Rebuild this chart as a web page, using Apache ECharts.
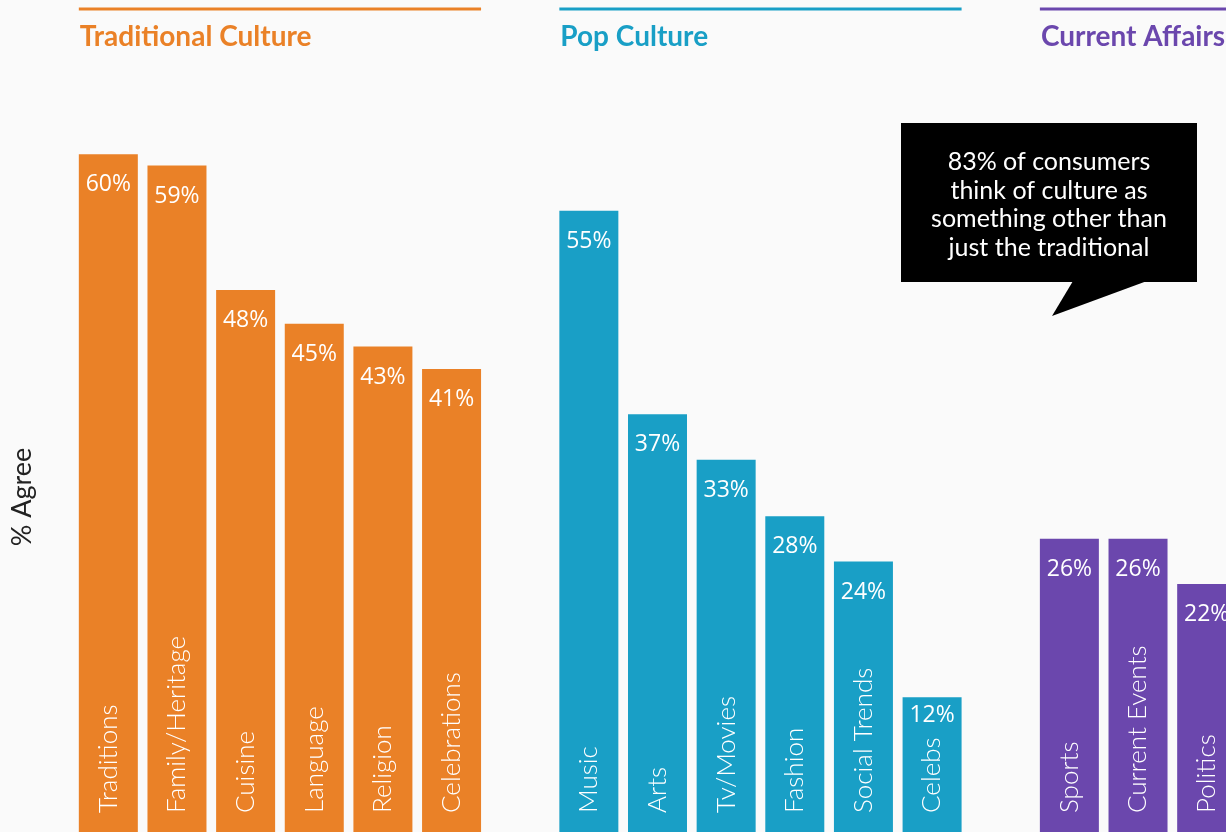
<!DOCTYPE html>
<html>
<head>
<meta charset="utf-8">
<title>Culture</title>
<script src="https://cdn.jsdelivr.net/npm/echarts@6/dist/echarts.min.js"></script>
<style>
html, body { margin: 0; padding: 0; background: #fafafa; }
#chart { width: 1226px; height: 832px; }
</style>
</head>
<body>
<div id="chart"></div>
<script>
// data
const traditionalCats = ['Traditions', 'Family/Heritage', 'Cuisine', 'Language', 'Religion', 'Celebrations']
const traditionalValues = [60, 59, 48, 45, 43, 41]
const popCats = ['Music', 'Arts', 'Tv/Movies', 'Fashion', 'Social Trends', 'Celebs']
const popValues = [55, 37, 33, 28, 24, 12]
const affairsCats = ['Sports', 'Current Events', 'Politics']
const affairsValues = [26, 26, 22]
const groupNames = ['Traditional Culture', 'Pop Culture', 'Current Affairs']
const groupColors = ['#ea8127', '#199fc6', '#6b47ad']
const valueRange = [0, 70]
const calloutLines = ['83% of consumers', 'think of culture as', 'something other than', 'just the traditional']

const groups = [
  { name: groupNames[0], cats: traditionalCats, vals: traditionalValues, color: groupColors[0] },
  { name: groupNames[1], cats: popCats, vals: popValues, color: groupColors[1] },
  { name: groupNames[2], cats: affairsCats, vals: affairsValues, color: groupColors[2] },
]

// flatten into one category axis, one empty slot between groups
const categories = []
const barData = []
const spans = []
groups.forEach((g, gi) => {
  if (gi > 0) {
    categories.push('')
    barData.push('-')
  }
  const start = categories.length
  g.cats.forEach((c, i) => {
    categories.push(c)
    const item = { value: g.vals[i], itemStyle: { color: g.color } }
    // short bar: label sits closer to the top
    if (g.vals[i] < 15) item.label = { distance: 7 }
    barData.push(item)
  })
  spans.push({ start: start, end: categories.length - 1, name: g.name, color: g.color })
})

const BAR_W = 59
const chart = echarts.init(document.getElementById('chart'))

chart.setOption({
  backgroundColor: '#fafafa',
  animation: false,
  grid: {
    left: 74,
    top: 41,
    width: 1167,
    height: 792,
    outerBoundsMode: 'none',
    containLabel: false,
  },
  xAxis: {
    type: 'category',
    data: categories,
    z: 10,
    axisLine: { show: false },
    axisTick: { show: false },
    axisLabel: {
      inside: true,
      rotate: 90,
      margin: 20,
      interval: 0,
      color: '#ffffff',
      fontSize: 26,
      fontFamily: 'Lato',
      fontWeight: 300,
    },
  },
  yAxis: {
    type: 'value',
    min: valueRange[0],
    max: valueRange[1],
    show: false,
  },
  series: [
    {
      type: 'bar',
      data: barData,
      barWidth: BAR_W,
      label: {
        show: true,
        position: 'insideTop',
        distance: 19,
        color: '#ffffff',
        fontSize: 23,
        fontFamily: 'Open Sans',
        formatter: '{c}%',
      },
    },
  ],
})

// group headers and rules, placed from the axis scale
const graphics = []
spans.forEach((s, i) => {
  const x0 = chart.convertToPixel({ xAxisIndex: 0 }, s.start) - BAR_W / 2
  let x1 = chart.convertToPixel({ xAxisIndex: 0 }, s.end) + BAR_W / 2
  if (i === spans.length - 1) x1 = 1226
  graphics.push({
    type: 'line',
    shape: { x1: x0, y1: 9, x2: x1, y2: 9 },
    style: { stroke: s.color, lineWidth: 3 },
  })
  graphics.push({
    type: 'text',
    x: x0 + 1,
    y: 37,
    style: {
      text: s.name,
      fill: s.color,
      font: 'bold 28px Lato',
      verticalAlign: 'middle',
    },
  })
})

// y title
graphics.push({
  type: 'text',
  x: 22,
  y: 497,
  rotation: Math.PI / 2,
  style: {
    text: '% Agree',
    fill: '#222222',
    font: '27px Lato',
    align: 'center',
    verticalAlign: 'middle',
  },
})

// callout box
graphics.push({
  type: 'rect',
  shape: { x: 901, y: 123, width: 296, height: 159 },
  style: { fill: '#000000' },
})
graphics.push({
  type: 'polygon',
  shape: { points: [[1073, 281], [1147, 281], [1052, 316]] },
  style: { fill: '#000000' },
})
graphics.push({
  type: 'text',
  x: 1049,
  y: 205,
  style: {
    text: calloutLines.join('\n'),
    fill: '#ffffff',
    font: '25px Lato',
    lineHeight: 28.5,
    align: 'center',
    verticalAlign: 'middle',
  },
})

chart.setOption({ graphic: graphics })
</script>
</body>
</html>
